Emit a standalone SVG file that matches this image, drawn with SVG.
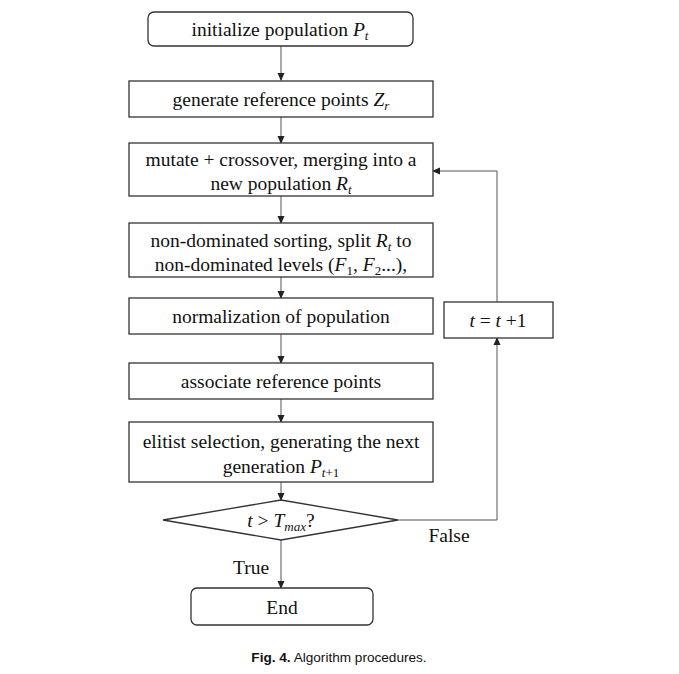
<svg xmlns="http://www.w3.org/2000/svg" width="679" height="674" viewBox="0 0 679 674">
<defs>
<marker id="ah" markerWidth="8" markerHeight="8" refX="7" refY="4" orient="auto" markerUnits="userSpaceOnUse">
<path d="M0,0.5 L8,4 L0,7.5 Z" fill="#222"/>
</marker>
<style>
.box{fill:#fff;stroke:#333;stroke-width:1.3}
.t{font-family:"Liberation Serif","Times New Roman",serif;font-size:19.5px;fill:#111;text-anchor:middle}
.i{font-style:italic}
.sub{font-size:13px}
.c{fill:none;stroke:#555;stroke-width:1;marker-end:url(#ah)}
.cap{font-family:"Liberation Sans",Arial,sans-serif;font-size:13.6px;fill:#111;text-anchor:middle}
</style>
</defs>
<rect width="679" height="674" fill="#fff"/>
<g id="connectors">
<line class="c" x1="281" y1="46" x2="281" y2="80"/>
<line class="c" x1="281" y1="117" x2="281" y2="143"/>
<line class="c" x1="281" y1="196" x2="281" y2="223"/>
<line class="c" x1="281" y1="277" x2="281" y2="298"/>
<line class="c" x1="281" y1="334" x2="281" y2="363"/>
<line class="c" x1="281" y1="399" x2="281" y2="422"/>
<line class="c" x1="281" y1="482" x2="281" y2="500"/>
<line class="c" x1="281" y1="540" x2="281" y2="588"/>
<polyline class="c" points="398,520 497,520 497,338"/>
<polyline class="c" points="497,302 497,171 433,171"/>
<text class="t" x="449" y="542">False</text>
<text class="t" x="251" y="574">True</text>
</g>
<g id="n1">
<rect class="box" x="148" y="12" width="265" height="34" rx="6"/>
<text class="t" x="280" y="36">initialize population <tspan class="i">P</tspan><tspan class="i sub" dy="4">t</tspan></text>
</g>
<g id="n2">
<rect class="box" x="129" y="81" width="304" height="36"/>
<text class="t" x="281" y="106">generate reference points <tspan class="i">Z</tspan><tspan class="i sub" dy="4">r</tspan></text>
</g>
<g id="n3">
<rect class="box" x="129" y="143" width="304" height="53"/>
<text class="t" x="281" y="166">mutate + crossover, merging into a</text>
<text class="t" x="281" y="190">new population <tspan class="i">R</tspan><tspan class="i sub" dy="4">t</tspan></text>
</g>
<g id="n4">
<rect class="box" x="129" y="223" width="304" height="54"/>
<text class="t" x="281" y="247">non-dominated sorting, split <tspan class="i">R</tspan><tspan class="i sub" dy="4">t</tspan><tspan dy="-4"> to</tspan></text>
<text class="t" x="281" y="271">non-dominated levels (<tspan class="i">F</tspan><tspan class="sub" dy="4">1</tspan><tspan dy="-4">, </tspan><tspan class="i">F</tspan><tspan class="sub" dy="4">2</tspan><tspan dy="-4">...),</tspan></text>
</g>
<g id="n5">
<rect class="box" x="129" y="298" width="304" height="36"/>
<text class="t" x="281" y="323">normalization of population</text>
</g>
<g id="n6">
<rect class="box" x="129" y="363" width="304" height="36"/>
<text class="t" x="281" y="388">associate reference points</text>
</g>
<g id="n7">
<rect class="box" x="129" y="422" width="304" height="60"/>
<text class="t" x="281" y="448">elitist selection, generating the next</text>
<text class="t" x="281" y="473">generation <tspan class="i">P</tspan><tspan class="sub" dy="4"><tspan class="i">t</tspan>+1</tspan></text>
</g>
<g id="n8">
<polygon class="box" points="163,520 281,500 398,520 281,540"/>
<text class="t" x="281" y="527"><tspan class="i">t</tspan> &gt; <tspan class="i">T</tspan><tspan class="i sub" dy="4">max</tspan><tspan dy="-4">?</tspan></text>
</g>
<g id="n9">
<rect class="box" x="191" y="588" width="182" height="37" rx="6"/>
<text class="t" x="282" y="614">End</text>
</g>
<g id="n10">
<rect class="box" x="444" y="302" width="109" height="36"/>
<text class="t" x="498" y="327"><tspan class="i">t</tspan> = <tspan class="i">t</tspan> +1</text>
</g>
<text class="cap" x="339" y="662"><tspan font-weight="bold">Fig. 4.</tspan>  Algorithm procedures.</text>
</svg>
